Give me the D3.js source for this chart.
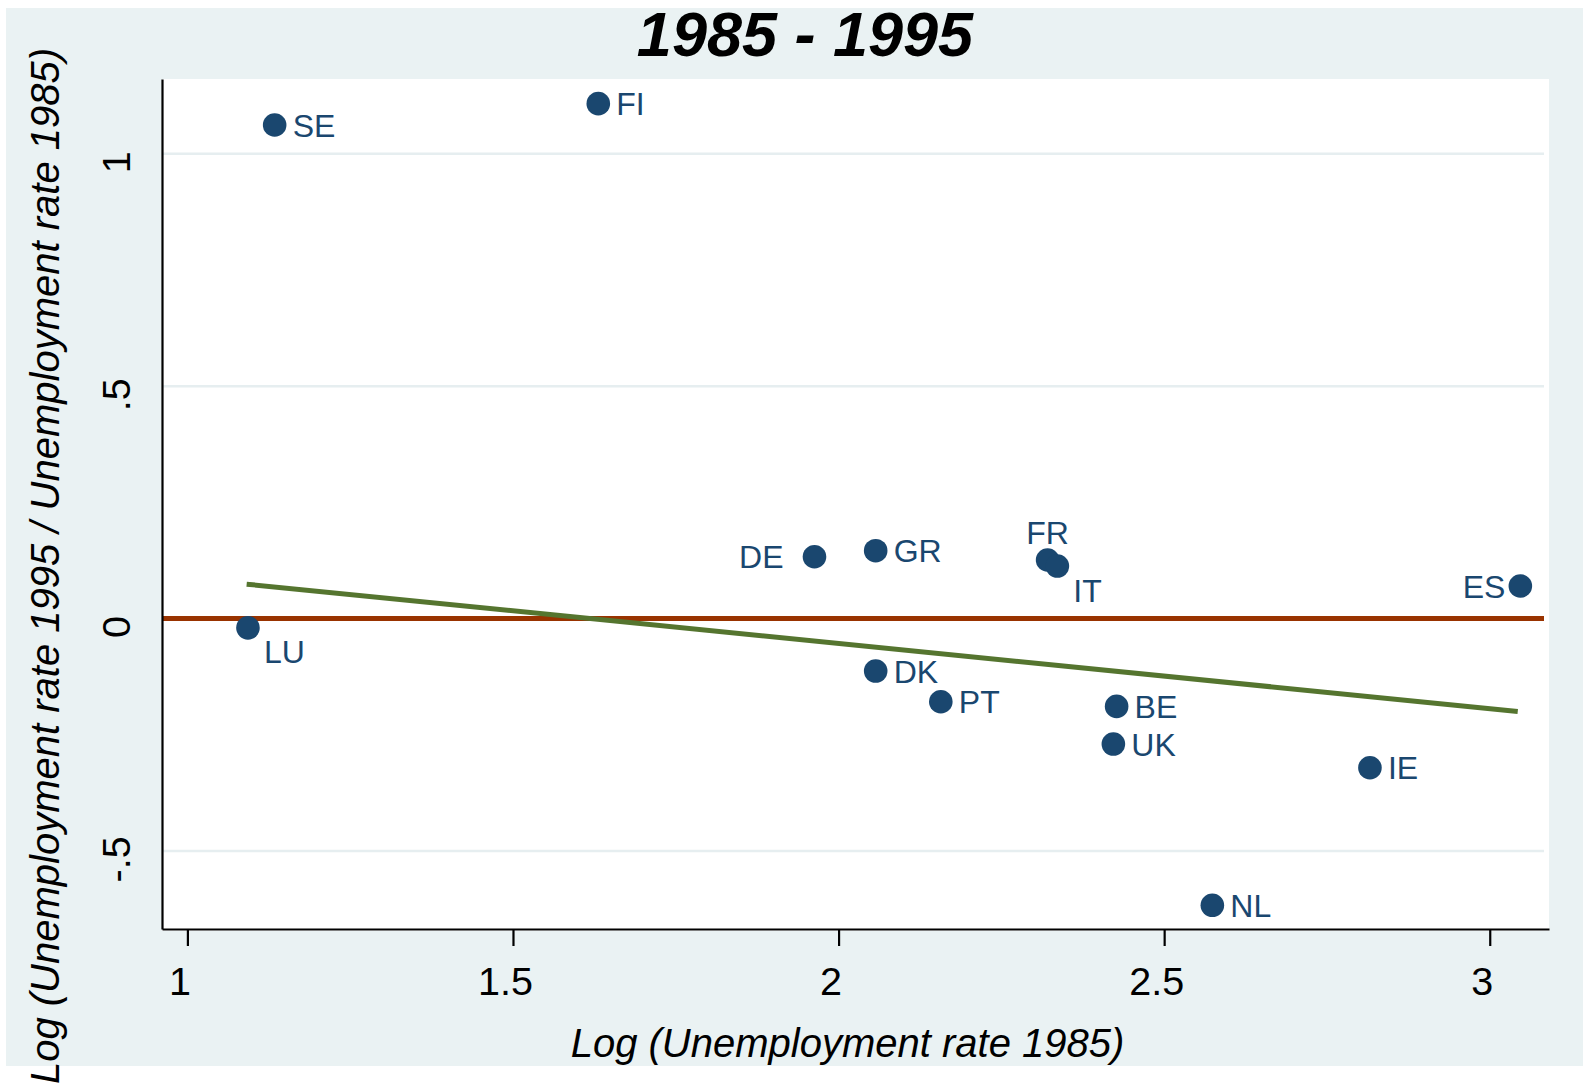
<!DOCTYPE html>
<html>
<head>
<meta charset="utf-8">
<script src="https://cdn.jsdelivr.net/npm/d3@7"></script>
<style>
  body { margin: 0; background: #fff; }
  text { font-family: "Liberation Sans", Arial, sans-serif; }
</style>
</head>
<body>
<svg id="chart" width="1583" height="1088"></svg>
<script>
// country codes, x = log unemployment 1985, y = log(1995/1985)
const countries = ['SE', 'FI', 'LU', 'DE', 'GR', 'FR', 'IT', 'ES', 'DK', 'PT', 'BE', 'UK', 'IE', 'NL'];
const logRate85 = [1.134, 1.631, 1.093, 1.963, 2.057, 2.321, 2.336, 3.047, 2.057, 2.157, 2.427, 2.422, 2.816, 2.574];
const logChange = [1.062, 1.108, -0.020, 0.133, 0.146, 0.126, 0.113, 0.070, -0.113, -0.179, -0.189, -0.270, -0.321, -0.617];
// marker label clock position (stata mlabvpos style)
const labelClock = [3, 3, 4, 9, 3, 12, 4, 9, 3, 3, 3, 3, 3, 3];

// fitted line end points
const fitX = [1.091, 3.043];
const fitY = [0.074, -0.200];

const xTicks = [1, 1.5, 2, 2.5, 3];
const yTicks = [-0.5, 0, 0.5, 1];
const yGrid = [-0.5, 0.5, 1];

const titleText = '1985 - 1995';
const xTitle = 'Log (Unemployment rate 1985)';
const yTitle = 'Log (Unemployment rate 1995 / Unemployment rate 1985)';

const navy = '#1a476f';
const svg = d3.select('#chart');

const x = d3.scaleLinear().domain([0.961, 3.091]).range([162, 1549]);
const y = d3.scaleLinear().domain([-0.668, 1.161]).range([929, 79]);

// graph region
svg.append('rect')
  .attr('x', 6).attr('y', 8)
  .attr('width', 1583 - 6).attr('height', 1066 - 8)
  .attr('fill', '#eaf2f3');

// plot region
svg.append('rect')
  .attr('x', x.range()[0]).attr('y', y.range()[1])
  .attr('width', x.range()[1] - x.range()[0])
  .attr('height', y.range()[0] - y.range()[1] + 2)
  .attr('fill', '#fff');

// grid
svg.append('g').selectAll('line').data(yGrid).join('line')
  .attr('x1', x.range()[0]).attr('x2', x.range()[1] - 5)
  .attr('y1', d => y(d)).attr('y2', d => y(d))
  .attr('stroke', '#e6eef0').attr('stroke-width', 2.5);

// zero reference line
svg.append('line')
  .attr('x1', x.range()[0]).attr('x2', x.range()[1] - 5)
  .attr('y1', y(0)).attr('y2', y(0))
  .attr('stroke', '#993300').attr('stroke-width', 5);

// fitted line
svg.append('path')
  .datum(fitX.map((v, i) => [v, fitY[i]]))
  .attr('d', d3.line().x(d => x(d[0])).y(d => y(d[1])))
  .attr('fill', 'none')
  .attr('stroke', '#55752f').attr('stroke-width', 5);

// axes
const fmt = d => (d === 0 ? '0' : String(d).replace('0.', '.'));

const xAxis = svg.append('g')
  .attr('transform', `translate(0,${y.range()[0]})`)
  .call(d3.axisBottom(x).tickValues(xTicks).tickFormat(String).tickSize(17).tickSizeOuter(0));
xAxis.select('.domain').attr('stroke', '#000').attr('stroke-width', 2.2);
xAxis.selectAll('.tick line').attr('stroke', '#000').attr('stroke-width', 2.2);
xAxis.selectAll('.tick text')
  .attr('y', 66).attr('dy', 0).attr('dx', -8)
  .attr('fill', '#000')
  .style('font-size', '39.5px')
  .style('font-family', '"Liberation Sans", Arial, sans-serif');

const yAxis = svg.append('g')
  .attr('transform', `translate(${x.range()[0]},0)`)
  .call(d3.axisLeft(y).tickValues(yTicks).tickFormat(fmt).tickSize(0).tickSizeOuter(0));
yAxis.select('.domain').attr('stroke', '#000').attr('stroke-width', 2.2);
yAxis.selectAll('.tick text')
  .attr('x', 0).attr('y', 0).attr('dy', 0).attr('dx', -8)
  .attr('text-anchor', 'middle')
  .attr('transform', 'translate(-32,0) rotate(-90)')
  .attr('fill', '#000')
  .style('font-size', '39.5px')
  .style('font-family', '"Liberation Sans", Arial, sans-serif');

// points
const pts = countries.map((c, i) => ({ c, x: logRate85[i], y: logChange[i], clock: labelClock[i] }));

svg.append('g').selectAll('circle').data(pts).join('circle')
  .attr('cx', d => x(d.x)).attr('cy', d => y(d.y))
  .attr('r', 11.8)
  .attr('fill', navy);

const labelFont = 32;
const place = {
  3: { dx: 18, dy: 0, anchor: 'start' },
  9: { dx: -15, dy: 0, anchor: 'end' },
  12: { dx: 0, dy: -28, anchor: 'middle' },
  4: { dx: 16, dy: 24, anchor: 'start' },
};

svg.append('g').selectAll('text').data(pts).join('text')
  .attr('x', d => x(d.x) + place[d.clock].dx - (d.c === 'DE' ? 16 : 0))
  .attr('y', d => y(d.y) + place[d.clock].dy + 0.36 * labelFont)
  .attr('text-anchor', d => place[d.clock].anchor)
  .attr('fill', navy)
  .style('font-size', `${labelFont}px`)
  .text(d => d.c);

// titles
svg.append('text')
  .attr('x', 805).attr('y', 56)
  .attr('text-anchor', 'middle')
  .style('font-size', '63px')
  .style('font-weight', 'bold')
  .style('font-style', 'italic')
  .text(titleText);

svg.append('text')
  .attr('x', (x.range()[0] + x.range()[1]) / 2 - 8).attr('y', 1057)
  .attr('text-anchor', 'middle')
  .style('font-size', '40px')
  .style('font-style', 'italic')
  .text(xTitle);

svg.append('text')
  .attr('transform', 'translate(59,566) rotate(-90)')
  .attr('text-anchor', 'middle')
  .style('font-size', '40px')
  .style('font-style', 'italic')
  .text(yTitle);
</script>
</body>
</html>
